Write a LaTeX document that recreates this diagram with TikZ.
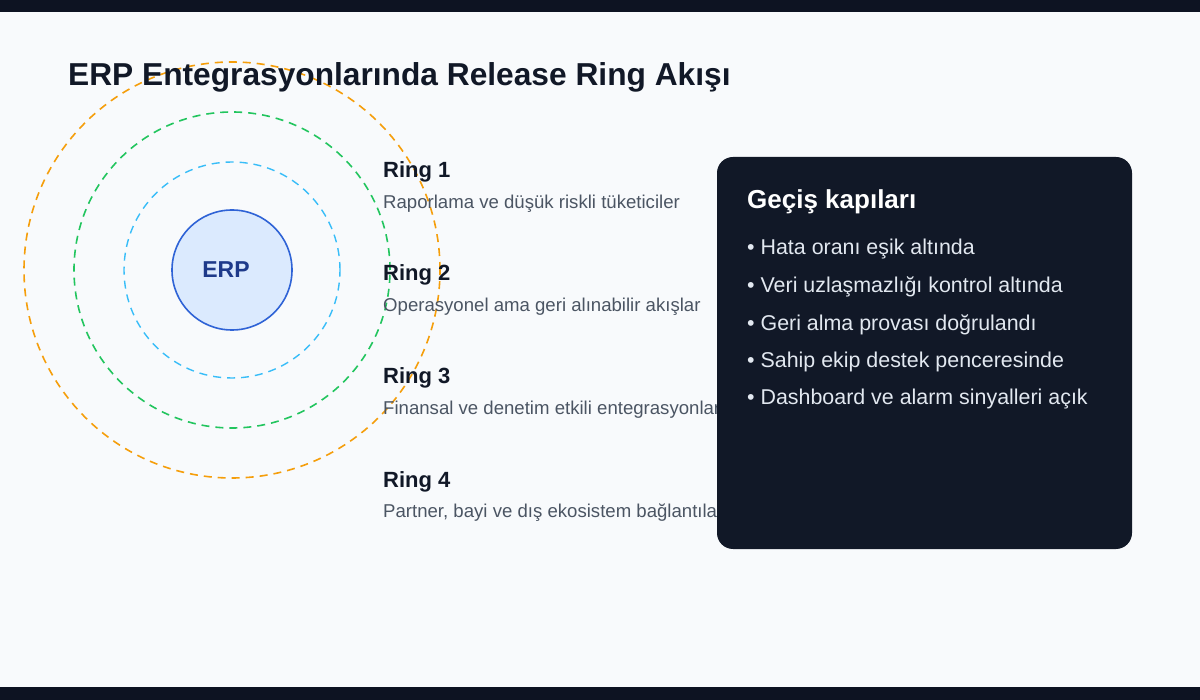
\documentclass[tikz,border=0pt]{standalone}
\usepackage{fontspec}
\setmainfont{Liberation Sans}
\definecolor{bg}{HTML}{F8FAFC}
\definecolor{band}{HTML}{0D1322}
\definecolor{panel}{HTML}{111827}
\definecolor{titlec}{HTML}{111827}
\definecolor{subc}{HTML}{4B5563}
\definecolor{erpfill}{HTML}{DBEAFE}
\definecolor{erpline}{HTML}{2F63D6}
\definecolor{erptext}{HTML}{1E3A8A}
\definecolor{ringa}{HTML}{38BDF8}
\definecolor{ringb}{HTML}{22C55E}
\definecolor{ringc}{HTML}{F59E0B}
\definecolor{bullc}{HTML}{E2E8F0}
\tikzset{
  ringline/.style={circle, draw, line width=1.6pt, dash pattern=on 8pt off 6pt, inner sep=0pt},
  ringtitle/.style={anchor=base west, inner sep=0pt, text=titlec, font=\fontsize{22}{26}\selectfont\bfseries},
  ringsub/.style={anchor=base west, inner sep=0pt, text=subc, font=\fontsize{18.6}{22}\selectfont},
  bullet/.style={anchor=base west, inner sep=0pt, text=bullc, font=\fontsize{21.4}{25}\selectfont},
}
\begin{document}
\begin{tikzpicture}[x=1pt,y=-1pt]
\useasboundingbox (0,0) rectangle (1200,700);
\fill[bg] (0,0) rectangle (1200,700);
\fill[band] (0,0) rectangle (1200,12);
\fill[band] (0,687) rectangle (1200,700);
% rings
\node[ringline, draw=ringc, minimum size=416pt] (r3) at (232,270) {};
\node[ringline, draw=ringb, minimum size=316pt] (r2) at (232,270) {};
\node[ringline, draw=ringa, minimum size=216pt, line width=1.4pt] (r1) at (232,270) {};
\node[circle, draw=erpline, fill=erpfill, line width=1.6pt, minimum size=120pt, inner sep=0pt] (erp) at (232,270) {};
\node[anchor=base, inner sep=0pt, text=erptext, font=\fontsize{23}{27}\selectfont\bfseries] (erplabel) at (226,278) {ERP};
% title
\node[anchor=base west, inner sep=0pt, text=titlec, font=\fontsize{31.7}{38}\selectfont\bfseries] (title) at (68,86) {ERP Entegrasyonlarında Release Ring Akışı};
% ring labels
\node[ringtitle] (l1) at (383,178) {Ring 1};
\node[ringsub] (s1) at (383,209) {Raporlama ve düşük riskli tüketiciler};
\node[ringtitle] (l2) at (383,281) {Ring 2};
\node[ringsub] (s2) at (383,312) {Operasyonel ama geri alınabilir akışlar};
\node[ringtitle] (l3) at (383,384) {Ring 3};
\node[ringsub] (s3) at (383,415) {Finansal ve denetim etkili entegrasyonlar};
\node[ringtitle] (l4) at (383,487) {Ring 4};
\node[ringsub] (s4) at (383,518) {Partner, bayi ve dış ekosistem bağlantıları};
% panel
\fill[panel, rounded corners=16pt] (717,157) rectangle (1132,549);
\node[anchor=base west, inner sep=0pt, text=white, font=\fontsize{26}{31}\selectfont\bfseries] (ptitle) at (747,209) {Geçiş kapıları};
\node[bullet] (b1) at (747,255) {• Hata oranı eşik altında};
\node[bullet] (b2) at (747,293) {• Veri uzlaşmazlığı kontrol altında};
\node[bullet] (b3) at (747,331) {• Geri alma provası doğrulandı};
\node[bullet] (b4) at (747,368) {• Sahip ekip destek penceresinde};
\node[bullet] (b5) at (747,405) {• Dashboard ve alarm sinyalleri açık};
\end{tikzpicture}
\end{document}
